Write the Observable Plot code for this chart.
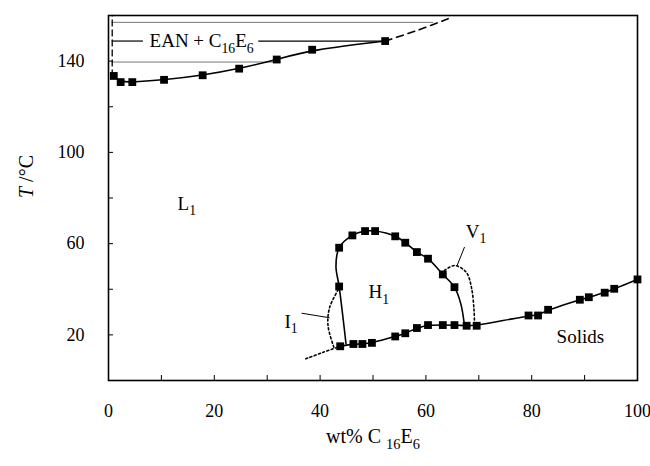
<!DOCTYPE html>
<html><head><meta charset="utf-8">
<script src="https://cdn.jsdelivr.net/npm/d3@7"></script>
<script src="https://cdn.jsdelivr.net/npm/@observablehq/plot@0.6"></script>
<style>
html,body{margin:0;padding:0;background:#fff;}
#chart{width:650px;height:466px;}
#chart svg, #chart svg text, #chart svg tspan { font-family: "Liberation Serif", "Times New Roman", serif !important; }
</style></head><body><div id="chart"></div>
<script>
// ---- axis ticks ----
const xTicks = [10, 20, 30, 40, 50, 60, 70, 80, 90];
const xTickLabels = [0, 20, 40, 60, 80, 100];
const yTicks = [20, 40, 60, 80, 100, 120, 140];
const yTickLabels = [20, 60, 100, 140];

// ---- upper boundary (L1 / two-phase EAN + C16E6) ----
const upperWt = [1.0, 2.3, 4.5, 10.5, 17.8, 24.7, 31.8, 38.5, 52.3];
const upperT  = [133.5, 130.8, 130.8, 131.8, 133.8, 136.7, 140.7, 145.0, 148.8];
const upperDashWt = [52.3, 58.5, 64.2];
const upperDashT  = [148.8, 153.6, 158.6];
const vertDashWt = [0.7, 0.7];
const vertDashT  = [133.5, 160];

// tie lines
const grayTieT    = [157.0, 139.6];
const grayTieFrom = [0.7, 0.7];
const grayTieTo   = [61.5, 31.3];
const darkTieT    = [148.8, 148.8];
const darkTieFrom = [0.7, 28.4];
const darkTieTo   = [6.6, 52.3];

// ---- lower boundary (solids) ----
const lowerWt = [43.8, 46.3, 48.0, 49.8, 54.2, 56.1, 58.3, 60.4, 63.2, 65.4, 67.7, 69.6, 79.4, 81.2, 83.1, 89.1, 90.8, 93.8, 95.6, 100];
const lowerT  = [15.0, 16.0, 16.0, 16.5, 19.3, 20.7, 23.0, 24.3, 24.3, 24.3, 24.0, 24.0, 28.5, 28.5, 31.0, 35.4, 36.5, 38.5, 40.2, 44.3];
const lowerDotWt = [37.3, 40.5, 43.8];
const lowerDotT  = [9.5, 12.3, 15.0];

// ---- H1 dome ----
const domeLineWt = [44.9, 43.6, 43.0, 43.6, 46.1, 48.5, 50.4, 54.2, 56.1, 58.3, 60.4, 63.2, 65.4, 66.6, 67.3];
const domeLineT  = [16.0, 41.2, 50.0, 58.2, 63.6, 65.5, 65.5, 63.2, 60.4, 56.3, 53.4, 46.5, 40.9, 33.6, 24.0];
const domePtWt = [43.6, 43.6, 46.1, 48.5, 50.4, 54.2, 56.1, 58.3, 60.4, 63.2, 65.4];
const domePtT  = [41.2, 58.2, 63.6, 65.5, 65.5, 63.2, 60.4, 56.3, 53.4, 46.5, 40.9];

// ---- I1 and V1 (dotted) ----
const i1Wt = [42.6, 41.5, 41.8, 43.6];
const i1T  = [14.6, 24.0, 32.0, 40.5];
const v1Wt = [63.5, 65.4, 67.6, 68.6, 69.1, 69.2];
const v1T  = [48.2, 50.4, 47.5, 40.9, 30.7, 24.0];

// leader lines
const leaderFromWt = [67.3, 36.5];
const leaderFromT  = [58.5, 29.5];
const leaderToWt   = [65.9, 41.8];
const leaderToT    = [50.4, 27.5];

// ---- labels ----
const labelText = ["L_{1}", "H_{1}", "V_{1}", "I_{1}", "Solids", "EAN + C_{16}E_{6}"];
const labelWt   = [14.8, 51.1, 69.5, 34.5, 89.2, 17.6];
const labelT    = [77.6, 38.8, 65.3, 25.9, 19.3, 148.8];

const xTitle = "wt% C _{16}E_{6}";
const yTitle = "*T* /°C";

const rows = (xs, ys) => xs.map((x, i) => ({wt: x, T: ys[i]}));
const segs = (ts, a, b) => ts.map((t, i) => ({T: t, from: a[i], to: b[i]}));

const plot = Plot.plot({
  width: 650, height: 466,
  marginLeft: 108, marginRight: 13, marginTop: 15, marginBottom: 86,
  style: {fontFamily: "Liberation Serif, serif", fontSize: "18px", background: "white", color: "black"},
  x: {domain: [0, 100], label: null},
  y: {domain: [0, 160], label: null},
  marks: [
    Plot.ruleY(segs(grayTieT, grayTieFrom, grayTieTo), {y: "T", x1: "from", x2: "to", stroke: "#777", strokeWidth: 1}),
    Plot.ruleY(segs(darkTieT, darkTieFrom, darkTieTo), {y: "T", x1: "from", x2: "to", stroke: "black", strokeWidth: 1.2}),
    Plot.line(rows(vertDashWt, vertDashT), {x: "wt", y: "T", stroke: "black", strokeWidth: 1.3, strokeDasharray: "6,4"}),
    Plot.line(rows(upperDashWt, upperDashT), {x: "wt", y: "T", stroke: "black", strokeWidth: 1.6, strokeDasharray: "7,5", curve: "catmull-rom"}),
    Plot.line(rows(upperWt, upperT), {x: "wt", y: "T", stroke: "black", strokeWidth: 1.6, curve: "basis"}),
    Plot.line(rows(lowerWt, lowerT), {x: "wt", y: "T", stroke: "black", strokeWidth: 1.6, curve: "basis"}),
    Plot.line(rows(lowerDotWt, lowerDotT), {x: "wt", y: "T", stroke: "black", strokeWidth: 1.6, strokeDasharray: "2,2.5", curve: "catmull-rom"}),
    Plot.line(rows(domeLineWt, domeLineT), {x: "wt", y: "T", stroke: "black", strokeWidth: 1.6, curve: "catmull-rom"}),
    Plot.line(rows(i1Wt, i1T), {x: "wt", y: "T", stroke: "black", strokeWidth: 1.6, strokeDasharray: "2,2.5", curve: "catmull-rom"}),
    Plot.line(rows(v1Wt, v1T), {x: "wt", y: "T", stroke: "black", strokeWidth: 1.6, strokeDasharray: "2,2.5", curve: "catmull-rom"}),
    Plot.link(leaderFromWt.map((x, i) => ({x1: x, y1: leaderFromT[i], x2: leaderToWt[i], y2: leaderToT[i]})), {x1: "x1", y1: "y1", x2: "x2", y2: "y2", stroke: "black", strokeWidth: 1}),
    Plot.dot(rows(upperWt, upperT), {x: "wt", y: "T", symbol: "square", r: 4.4, fill: "black", stroke: null}),
    Plot.dot(rows(lowerWt, lowerT), {x: "wt", y: "T", symbol: "square", r: 4.4, fill: "black", stroke: null}),
    Plot.dot(rows(domePtWt, domePtT), {x: "wt", y: "T", symbol: "square", r: 4.4, fill: "black", stroke: null}),
    Plot.text(labelText.map((t, i) => ({t, wt: labelWt[i], T: labelT[i]})), {x: "wt", y: "T", text: "t", fontSize: 19, fill: "black"}),
    Plot.text([xTitle], {frameAnchor: "bottom", dy: 62, fontSize: 20, fill: "black"}),
    Plot.text([yTitle], {frameAnchor: "left", dx: -82, rotate: -90, fontSize: 20, fill: "black"}),
    Plot.frame({stroke: "black", strokeWidth: 1.6}),
    Plot.axisX(xTicks, {tickSize: 5, dy: -5, fill: "none", label: null}),
    Plot.axisX(xTickLabels, {tickSize: 0, tickPadding: 24, fontSize: 18, label: null}),
    Plot.axisY(yTicks, {tickSize: 5, dx: 5, fill: "none", label: null}),
    Plot.axisY(yTickLabels, {tickSize: 0, tickPadding: 24, fontSize: 18, label: null})
  ]
});
document.getElementById("chart").appendChild(plot);

// render subscripts (_{..}) and italics (*..*) as tspans
(function richify(svg) {
  const ns = "http://www.w3.org/2000/svg";
  svg.querySelectorAll("text").forEach(el => {
    const s = el.textContent;
    if (!s.includes("_{") && !s.includes("*")) return;
    const fs = parseFloat(getComputedStyle(el).fontSize) || 19;
    const sub = 0.72 * fs, shift = 0.3 * fs;
    el.textContent = "";
    const re = /_\{([^}]*)\}|\*([^*]*)\*|([^_*]+)/g;
    let m, down = false;
    while ((m = re.exec(s))) {
      const t = document.createElementNS(ns, "tspan");
      if (m[1] !== undefined) {
        t.textContent = m[1];
        t.setAttribute("font-size", sub);
        if (!down) { t.setAttribute("dy", shift); down = true; }
      } else {
        t.textContent = m[2] !== undefined ? m[2] : m[3];
        if (m[2] !== undefined) t.setAttribute("font-style", "italic");
        if (down) { t.setAttribute("dy", -shift); down = false; }
      }
      el.appendChild(t);
    }
  });
})(plot);
</script>
</body></html>
